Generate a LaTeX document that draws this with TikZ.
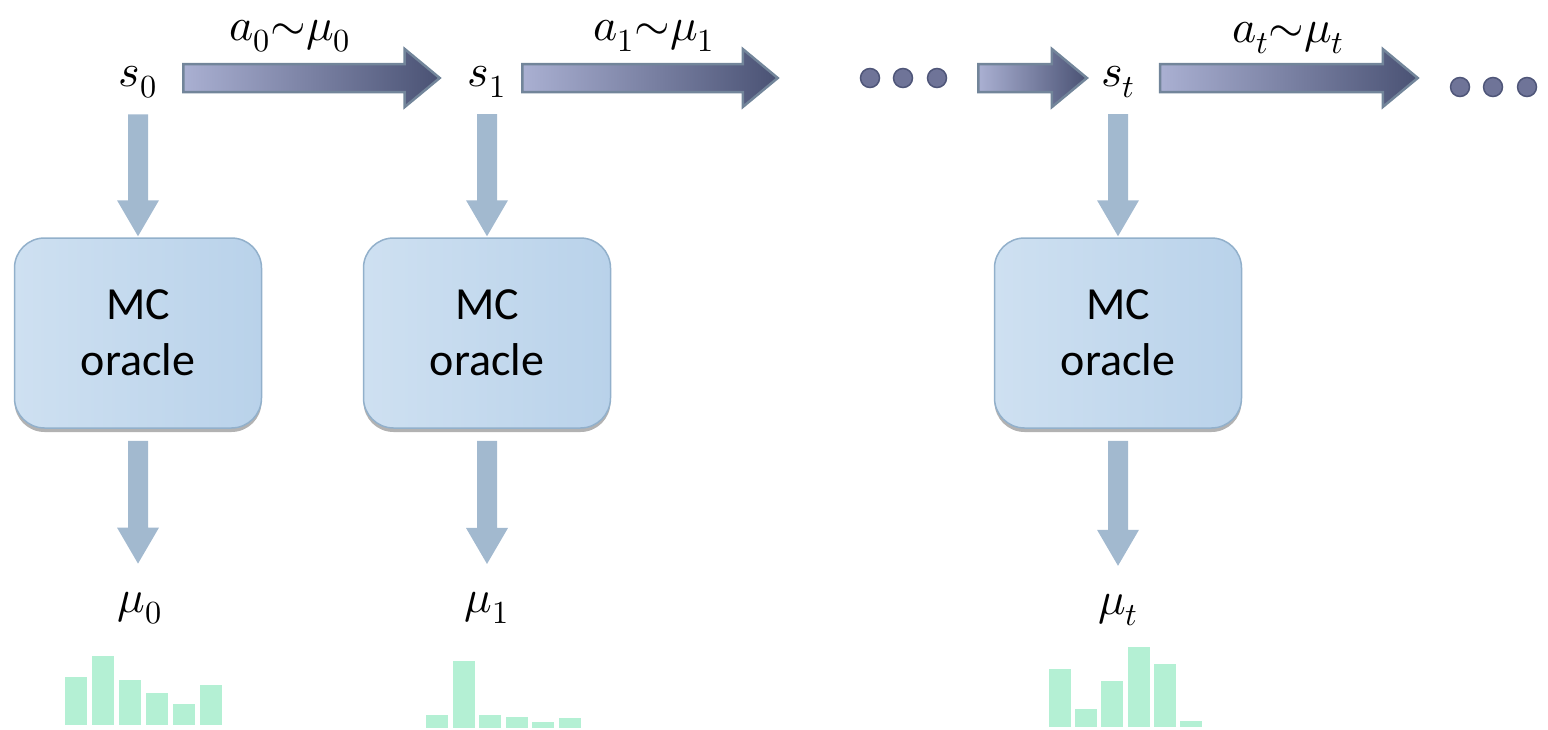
\documentclass[tikz,border=0pt]{standalone}
\usepackage{fontspec}
\usepackage{unicode-math}
\setmathfont{Latin Modern Math}
\newfontfamily\oraclefont{Carlito}
\usetikzlibrary{calc,shadows}

\definecolor{flowlight}{HTML}{AAB0D2}
\definecolor{flowdark}{HTML}{4A5274}
\definecolor{flowedge}{HTML}{72859A}
\definecolor{dotfill}{HTML}{6F7498}
\definecolor{dotedge}{HTML}{4F5679}
\definecolor{vline}{HTML}{A2B9CF}
\definecolor{boxlight}{HTML}{CEE0F1}
\definecolor{boxdark}{HTML}{B9D2EA}
\definecolor{boxedge}{HTML}{92B0CB}
\definecolor{barfill}{HTML}{B4F0D4}

% horizontal block arrow: from, to, gap at start, gap at end
\newcommand{\flowarrow}[4]{%
  \path[flow] let \p1=(#1.east), \p2=(#2.west), \p3=(row) in
    (\x1+#3,\y3+14pt) -- (\x2-#4-35pt,\y3+14pt) -- (\x2-#4-35pt,\y3+29pt)
    -- (\x2-#4,\y3) -- (\x2-#4-35pt,\y3-29pt) -- (\x2-#4-35pt,\y3-14pt)
    -- (\x1+#3,\y3-14pt) -- cycle;}
% vertical block arrow: from, to, gap at start, gap at end
\newcommand{\vflow}[4]{%
  \path[vflowline] let \p1=(#1.south), \p2=(#2.north) in
    (\x1-10pt,\y1-#3) -- (\x1-10pt,\y2+#4+36pt) -- (\x1-21pt,\y2+#4+36pt)
    -- (\x1,\y2+#4) -- (\x1+21pt,\y2+#4+36pt) -- (\x1+10pt,\y2+#4+36pt)
    -- (\x1+10pt,\y1-#3) -- cycle;}

\begin{document}
\begin{tikzpicture}[x=1pt, y=-1pt,
state/.style={inner sep=0pt, font=\fontsize{46}{54}\selectfont},
oracle/.style={draw=boxedge, line width=1.5pt, rounded corners=30pt,
  left color=boxlight, right color=boxdark, minimum width=247pt, minimum height=190pt,
  align=center, font=\oraclefont\fontsize{46}{56}\selectfont,
  drop shadow={shadow xshift=0pt, shadow yshift=-4pt, fill=black, opacity=0.3}},
flow/.style={left color=flowlight, right color=flowdark, draw=flowedge, line width=2.5pt},
vflowline/.style={fill=vline},
dot/.style={circle, fill=dotfill, draw=dotedge, line width=1.5pt, minimum size=19pt, inner sep=0pt},
bar/.style={fill=barfill, draw=white, line width=1pt}
]
\useasboundingbox (0,0) rectangle (1548,729);
\coordinate (row) at (0,78);
%States
\node[state]     (s0)   at (138,82)      {$s_0$};
\node[state]     (s1)   at (487,82)      {$s_1$};
\node[state]     (st)   at (1118,82)     {$s_t$};
\foreach \i/\x in {1/870,2/903,3/937} \node[dot] (dA\i) at (\x,78) {};
\foreach \i/\x in {1/1460,2/1493,3/1527} \node[dot] (dB\i) at (\x,87) {};
%Actions
\node[state]     (a0)   at (290,36)      {$a_0{\sim}\mu_0$};
\node[state]     (a1)   at (654,36)      {$a_1{\sim}\mu_1$};
\node[state]     (at)   at (1288,38)     {$a_t{\sim}\mu_t$};
%Oracles
\node[oracle]    (o0)   at (s0 |- 0,333) {MC\\oracle};
\node[oracle]    (o1)   at (s1 |- 0,333) {MC\\oracle};
\node[oracle]    (ot)   at (st |- 0,333) {MC\\oracle};
%Outputs
\node[state]     (m0)   at (140,608)     {$\mu_0$};
\node[state]     (m1)   at (487,608)     {$\mu_1$};
\node[state]     (mt)   at (1118,610)    {$\mu_t$};
%Arrows
\flowarrow{s0}{s1}{26pt}{28pt}
\flowarrow{s1}{dA1}{16pt}{82pt}
\flowarrow{dA3}{st}{31pt}{14pt}
\flowarrow{st}{dB1}{25pt}{32pt}
\foreach \s/\o/\m in {s0/o0/m0, s1/o1/m1, st/ot/mt}{
  \vflow{\s}{\o}{16pt}{1pt}
  \vflow{\o}{\m}{12pt}{28pt}
}
%Histograms
\foreach \x/\h in {64/676, 91/655, 118/679, 145/692, 172/703, 199/684}
  \draw[bar] (\x,725) rectangle (\x+23,\h);
\foreach \x/\h in {425/714, 452/660, 478/714, 505/716, 531/721, 558/717}
  \draw[bar] (\x,728) rectangle (\x+23,\h);
\foreach \x/\h in {1048/668, 1074/708, 1100/680, 1127/646, 1153/663, 1179/720}
  \draw[bar] (\x,727) rectangle (\x+23,\h);
\end{tikzpicture}
\end{document}
